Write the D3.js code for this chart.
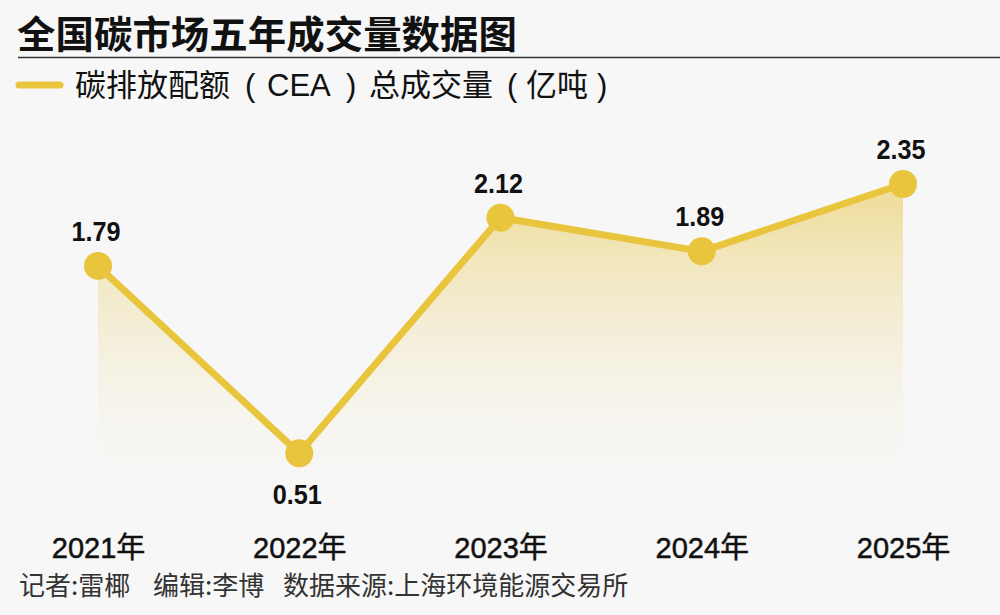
<!DOCTYPE html>
<html><head><meta charset="utf-8">
<script src="https://cdn.jsdelivr.net/npm/d3@7"></script>
<style>
html,body{margin:0;padding:0;background:#f7f7f7;}
svg{display:block;}
</style></head>
<body>
<svg id="c" width="1000" height="615"></svg>
<script>
const years = ["2021年","2022年","2023年","2024年","2025年"];
const volumes = [1.79, 0.51, 2.12, 1.89, 2.35];
const valueLabels = ["1.79","0.51","2.12","1.89","2.35"];
const title = "全国碳市场五年成交量数据图";
const legendParts = ["碳排放配额","(","CEA",")","总成交量","(","亿吨",")"];
const footerParts = ["记者:雷椰","编辑:李博","数据来源:上海环境能源交易所"];

const svg = d3.select("#c");
const cjk = "'Noto Sans CJK SC','Noto Sans',sans-serif";
const num = "'Liberation Sans','Noto Sans CJK SC',sans-serif";
const gold = "#e9c53d";

svg.append("rect").attr("width",1000).attr("height",615).attr("fill","#f7f7f7");

const x = d3.scalePoint().domain(years).range([98, 903]);
const y = d3.scaleLinear().domain([0, 2.35]).range([528, 184]);

const defs = svg.append("defs");
const g = defs.append("linearGradient").attr("id","fillG")
  .attr("gradientUnits","userSpaceOnUse").attr("x1",0).attr("y1",184).attr("x2",0).attr("y2",520);
g.append("stop").attr("offset",0).attr("stop-color","#eedb95").attr("stop-opacity",1);
g.append("stop").attr("offset",1).attr("stop-color","#f7f7f7").attr("stop-opacity",0);

const data = years.map((yr,i)=>({yr, v:volumes[i], lab:valueLabels[i]}));

// title
svg.append("text").attr("x",17).attr("y",48).text(title)
  .attr("font-family",cjk).attr("font-weight","bold").attr("font-size",38).attr("fill","#111")
  .attr("textLength",500).attr("lengthAdjust","spacingAndGlyphs");
svg.append("line").attr("x1",18).attr("x2",1000).attr("y1",57.5).attr("y2",57.5)
  .attr("stroke","#333").attr("stroke-width",1.5);

// legend
svg.append("line").attr("x1",19).attr("x2",60).attr("y1",85).attr("y2",85)
  .attr("stroke",gold).attr("stroke-width",7).attr("stroke-linecap","round");
const legendX = [75, 245, 267, 346, 369, 507, 526, 597];
const lt = svg.append("text").attr("y",96).attr("font-size",31).attr("fill","#111");
lt.selectAll("tspan").data(legendParts).join("tspan")
  .attr("x",(d,i)=>legendX[i]).text(d=>d)
  .attr("font-family",(d)=>/[A-Z()]/.test(d)?num:cjk);

// area
const area = d3.area().x(d=>x(d.yr)).y0(y(0)).y1(d=>y(d.v));
svg.append("path").datum(data).attr("d",area).attr("fill","url(#fillG)");

// line
const line = d3.line().x(d=>x(d.yr)).y(d=>y(d.v));
svg.append("path").datum(data).attr("d",line).attr("fill","none")
  .attr("stroke",gold).attr("stroke-width",7).attr("stroke-linejoin","round");

// points
svg.selectAll("circle.pt").data(data).join("circle").attr("class","pt")
  .attr("cx",d=>x(d.yr)).attr("cy",d=>y(d.v)).attr("r",14).attr("fill",gold);

// value labels
svg.selectAll("text.val").data(data).join("text").attr("class","val")
  .attr("x",d=>x(d.yr)-2)
  .attr("y",d=> d.v < 1 ? y(d.v)+51 : y(d.v)-25)
  .attr("text-anchor","middle").text(d=>d.lab)
  .attr("font-family",num).attr("font-weight","bold").attr("font-size",28).attr("fill","#111")
  .attr("transform",d=>{const cx=x(d.yr)-2; return `translate(${cx},0) scale(0.9,1) translate(${-cx},0)`;});

// x axis labels
const xAxis = d3.axisBottom(x).tickSize(0).tickPadding(0);
const ax = svg.append("g").attr("transform","translate(0,558)").call(xAxis);
ax.select(".domain").remove();
ax.selectAll("text").attr("font-family",num).attr("font-weight","normal").attr("font-size",29)
  .attr("fill","#111").attr("dy",0).attr("y",0)
  .attr("stroke","#111").attr("stroke-width",0.5);

// footer
const footerX = [19, 153, 283];
const ft = svg.append("text").attr("y",595).attr("font-family",cjk).attr("font-size",26).attr("fill","#333");
ft.selectAll("tspan").data(footerParts).join("tspan").attr("x",(d,i)=>footerX[i]).text(d=>d);
</script>
</body></html>
